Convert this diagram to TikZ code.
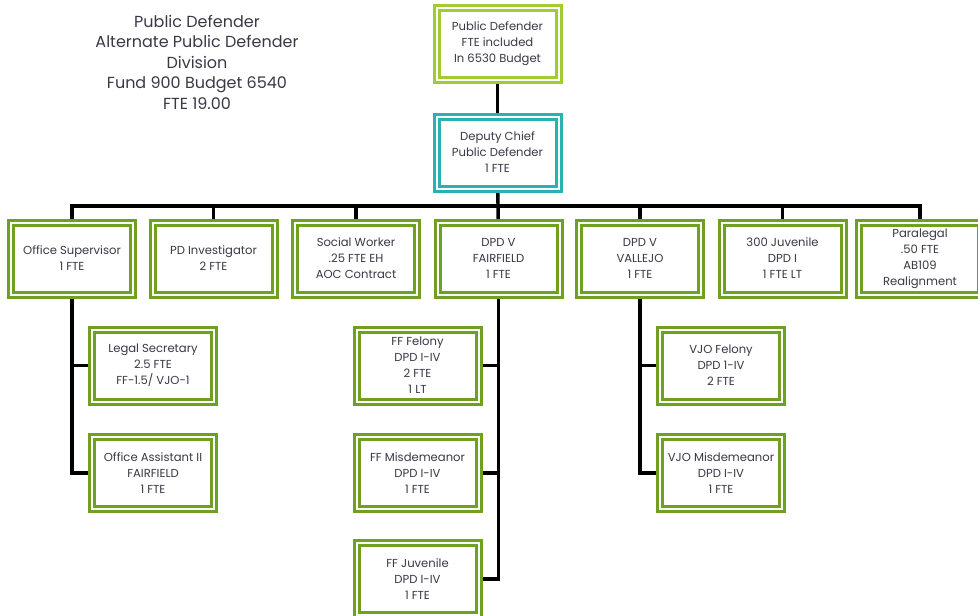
\documentclass[tikz,border=0pt]{standalone}
\usepackage{fontspec}
\setmainfont{Poppins}
\usetikzlibrary{backgrounds}

\definecolor{leafgreen}{RGB}{112,160,32}
\definecolor{limegreen}{RGB}{160,204,50}
\definecolor{tealblue}{RGB}{40,178,178}
\definecolor{boxtext}{RGB}{60,55,70}

\tikzset{
  post/.style={draw=leafgreen, double=white, double distance=1.5pt, line width=2.25pt,
    fill=white, minimum width=91.5pt, minimum height=54pt, inner sep=1pt,
    align=center, text=boxtext, font=\fontsize{8.7}{12}\selectfont},
  link/.style={line width=2.6pt, black},
}

\begin{document}
\begin{tikzpicture}[x=0.75pt,y=-0.75pt]
\useasboundingbox (0,0) rectangle (978,615);
\clip (0,0) rectangle (978,615);

% heading
\node (title) [align=center, text=boxtext, font=\fontsize{12}{15.4}\selectfont] at (197,62)
  {Public Defender\\Alternate Public Defender\\Division\\Fund 900 Budget 6540\\FTE 19.00};

% top of the chart
\node (pd) [post, draw=limegreen] at (497.5,44) {Public Defender\\FTE included\\In 6530 Budget};
\node (deputy) [post, draw=tealblue] at (497.5,152.5) {Deputy Chief\\Public Defender\\1 FTE};

% first row
\node (offsup) [post] at (72,258.5) {Office Supervisor\\1 FTE};
\node (invest) [post] at (213.5,258.5) {PD Investigator\\2 FTE};
\node (social) [post] at (356,258.5) {Social Worker\\.25 FTE EH\\AOC Contract};
\node (fairfield) [post] at (498.5,258.5) {DPD V\\FAIRFIELD\\1 FTE};
\node (vallejo) [post] at (640,258.5) {DPD V\\VALLEJO\\1 FTE};
\node (juvenile) [post] at (782.5,258.5) {300 Juvenile\\DPD I\\1 FTE LT};
\node (paralegal) [post] at (920,258.5) {Paralegal\\.50 FTE\\AB109\\Realignment};

% second level
\node (legsec) [post] at (153,365.5) {Legal Secretary\\2.5 FTE\\FF-1.5/ VJO-1};
\node (offasst) [post] at (153,473) {Office Assistant II\\FAIRFIELD\\1 FTE};
\node (fffelony) [post] at (417.5,365.5) {FF Felony\\DPD I-IV\\2 FTE\\1 LT};
\node (ffmisd) [post] at (417.5,473) {FF Misdemeanor\\DPD I-IV\\1 FTE};
\node (ffjuv) [post] at (417.5,579) {FF Juvenile\\DPD I-IV\\1 FTE};
\node (vjofelony) [post] at (721,365.5) {VJO Felony\\DPD 1-IV\\2 FTE};
\node (vjomisd) [post] at (721,473) {VJO Misdemeanor\\DPD I-IV\\1 FTE};

\coordinate (bar) at (498,206);

\begin{scope}[on background layer]
\draw [link] (pd) -- (deputy);
\draw [link] (deputy) -- (fairfield);
\draw [link] (offsup) |- (bar) -| (paralegal);
\foreach \n in {invest,social,vallejo,juvenile}
  \draw [link] (\n) -- (\n |- bar);
\draw [link] (offsup) |- (legsec);
\draw [link] (offsup) |- (offasst);
\draw [link] (fairfield) |- (fffelony);
\draw [link] (fairfield) |- (ffmisd);
\draw [link] (fairfield) |- (ffjuv);
\draw [link] (vallejo) |- (vjofelony);
\draw [link] (vallejo) |- (vjomisd);
\end{scope}
\end{tikzpicture}
\end{document}
